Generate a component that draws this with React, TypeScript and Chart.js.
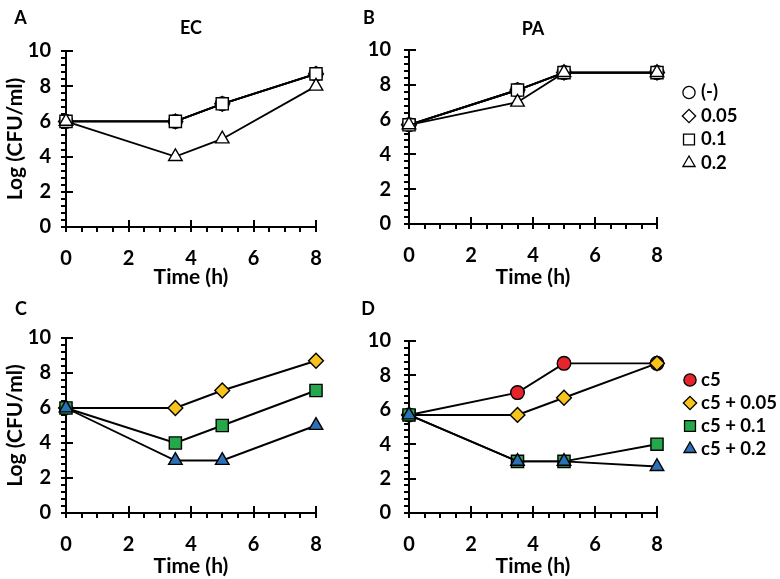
import React, { useEffect, useRef } from 'react';
import { Chart, registerables } from 'chart.js';
import { drawPoint } from 'chart.js/helpers';

Chart.register(...registerables);

const FONT = 'Lato';

// ---------- data ----------
const times = [0, 3.5, 5, 8];
const xTickValues = [0, 2, 4, 6, 8];
const yTickValues = [0, 2, 4, 6, 8, 10];
const xMinorStep = 0.5;
const yMinorStep = 0.4;

const labelsTop = ['(-)', '0.05', '0.1', '0.2'];
const labelsBottom = ['c5', 'c5 + 0.05', 'c5 + 0.1', 'c5 + 0.2'];

// Panel A (EC)
const ecNone = [6, 6, 7, 8.7];
const ec005 = [6, 6, 7, 8.7];
const ec01 = [6, 6, 7, 8.7];
const ec02 = [6, 4, 5, 8];

// Panel B (PA)
const paNone = [5.7, 7.7, 8.7, 8.7];
const pa005 = [5.7, 7.7, 8.7, 8.7];
const pa01 = [5.7, 7.7, 8.7, 8.7];
const pa02 = [5.7, 7.0, 8.7, 8.7];

// Panel C (EC + c5)
const ecC5_005 = [6, 6, 7, 8.7];
const ecC5_01 = [6, 4, 5, 7];
const ecC5_02 = [6, 3, 3, 5];

// Panel D (PA + c5)
const paC5 = [5.7, 7.0, 8.7, 8.7];
const paC5_005 = [5.7, 5.7, 6.7, 8.7];
const paC5_01 = [5.7, 3, 3, 4];
const paC5_02 = [5.7, 3, 3, 2.7];

// ---------- styles ----------
const RED = '#E5242B';
const YELLOW = '#F7C41C';
const GREEN = '#24A84A';
const BLUE = '#2C70B6';

const markerStyles = [
  { style: 'circle', radius: 6.8 },
  { style: 'rectRot', radius: 7.4 },
  { style: 'rect', radius: 8.6 },
  { style: 'triangle', radius: 7.8 },
];

type Series = { label: string; values: number[]; idx: number; fill: string };

type PanelDef = {
  letter: string;
  title?: string;
  yTitle: boolean;
  cx: number; cy: number; W: number; H: number;
  L: number; T: number; R: number; B: number;
  titleCenter?: number;
  letterX: number; letterY: number;
  yPad: number;
  series: Series[];
  legend?: { markerX: number; textX: number; y: number; spacing: number };
};

const panels: PanelDef[] = [
  {
    letter: 'A', title: 'EC', yTitle: true, cx: 0, cy: 0, W: 390, H: 290,
    L: 66, T: 51, R: 316, B: 227, titleCenter: 28, letterX: 20.5, letterY: 18.5, yPad: 15,
    series: [
      { label: labelsTop[0], values: ecNone, idx: 0, fill: '#fff' },
      { label: labelsTop[1], values: ec005, idx: 1, fill: '#fff' },
      { label: labelsTop[2], values: ec01, idx: 2, fill: '#fff' },
      { label: labelsTop[3], values: ec02, idx: 3, fill: '#fff' },
    ],
  },
  {
    letter: 'B', title: 'PA', yTitle: false, cx: 330, cy: 0, W: 450, H: 290,
    L: 409, T: 50, R: 657, B: 224, titleCenter: 29, letterX: 369, letterY: 18.5, yPad: 18,
    series: [
      { label: labelsTop[0], values: paNone, idx: 0, fill: '#fff' },
      { label: labelsTop[1], values: pa005, idx: 1, fill: '#fff' },
      { label: labelsTop[2], values: pa01, idx: 2, fill: '#fff' },
      { label: labelsTop[3], values: pa02, idx: 3, fill: '#fff' },
    ],
    legend: { markerX: 689, textX: 701, y: 92.5, spacing: 23.5 },
  },
  {
    letter: 'C', yTitle: true, cx: 0, cy: 290, W: 390, H: 289,
    L: 66, T: 338, R: 316, B: 513, letterX: 21, letterY: 309, yPad: 15,
    series: [
      { label: labelsBottom[1], values: ecC5_005, idx: 1, fill: YELLOW },
      { label: labelsBottom[2], values: ecC5_01, idx: 2, fill: GREEN },
      { label: labelsBottom[3], values: ecC5_02, idx: 3, fill: BLUE },
    ],
  },
  {
    letter: 'D', yTitle: false, cx: 330, cy: 290, W: 450, H: 289,
    L: 409, T: 341, R: 657, B: 513, letterX: 368, letterY: 309, yPad: 18,
    series: [
      { label: labelsBottom[0], values: paC5, idx: 0, fill: RED },
      { label: labelsBottom[1], values: paC5_005, idx: 1, fill: YELLOW },
      { label: labelsBottom[2], values: paC5_01, idx: 2, fill: GREEN },
      { label: labelsBottom[3], values: paC5_02, idx: 3, fill: BLUE },
    ],
    legend: { markerX: 690, textX: 701, y: 380, spacing: 23 },
  },
];

// ---------- plugins ----------
const axisTicks = {
  id: 'axisTicks',
  beforeDatasetsDraw(chart: any) {
    const { ctx, chartArea, scales } = chart;
    const x = scales.x, y = scales.y;
    const left = chartArea.left, bottom = chartArea.bottom;
    ctx.save();
    ctx.strokeStyle = '#000';
    ctx.lineWidth = 2;
    ctx.beginPath();
    const ny = Math.round((y.max - y.min) / yMinorStep);
    for (let k = 0; k <= ny; k++) {
      const py = Math.round(y.getPixelForValue(y.min + k * yMinorStep));
      ctx.moveTo(left - 5, py); ctx.lineTo(left, py);
    }
    yTickValues.forEach((v) => {
      const py = Math.round(y.getPixelForValue(v));
      ctx.moveTo(left - 5, py); ctx.lineTo(left + 7, py);
    });
    const nx = Math.round((x.max - x.min) / xMinorStep);
    for (let k = 0; k <= nx; k++) {
      const px = Math.round(x.getPixelForValue(x.min + k * xMinorStep));
      ctx.moveTo(px, bottom); ctx.lineTo(px, bottom + 5);
    }
    xTickValues.forEach((v) => {
      const px = Math.round(x.getPixelForValue(v));
      ctx.moveTo(px, bottom - 7); ctx.lineTo(px, bottom + 5);
    });
    ctx.stroke();
    ctx.restore();
  },
};

const panelLetter = {
  id: 'panelLetter',
  afterDraw(chart: any, _args: any, opts: any) {
    if (!opts || !opts.text) return;
    const ctx = chart.ctx;
    ctx.save();
    ctx.fillStyle = '#000';
    ctx.font = `bold ${opts.size}px ${FONT}`;
    ctx.textAlign = 'center';
    ctx.textBaseline = 'middle';
    ctx.fillText(opts.text, opts.x, opts.y);
    ctx.restore();
  },
};

const sideLegend = {
  id: 'sideLegend',
  afterDraw(chart: any, _args: any, opts: any) {
    if (!opts || !opts.display) return;
    const ctx = chart.ctx;
    ctx.save();
    chart.data.datasets.forEach((ds: any, i: number) => {
      const y = opts.y + i * opts.spacing;
      ctx.fillStyle = ds.pointBackgroundColor;
      ctx.strokeStyle = '#000';
      ctx.lineWidth = 1.3;
      drawPoint(ctx, { pointStyle: ds.pointStyle, radius: ds.pointRadius * 0.9, borderWidth: 1.3, rotation: 0 } as any, opts.markerX, y);
      ctx.fillStyle = '#000';
      ctx.font = `bold ${opts.size}px ${FONT}`;
      ctx.textAlign = 'left';
      ctx.textBaseline = 'middle';
      ctx.fillText(ds.label, opts.textX, y);
    });
    ctx.restore();
  },
};

function makeConfig(p: PanelDef): any {
  const padLeft = 3;
  const yWidth = p.L - p.cx - padLeft;
  const xHeight = p.H - (p.B - p.cy);
  const padRight = p.W - (p.R - p.cx);
  const titleFont = 18;
  const titleLH = titleFont * 1.2;
  const n = p.series.length;
  let titlePad = { top: 0, bottom: 0 };
  if (p.title && p.titleCenter) {
    const top = p.titleCenter - titleLH / 2;
    titlePad = { top, bottom: (p.T - p.cy) - top - titleLH };
  }
  return {
    type: 'line',
    data: {
      datasets: p.series.map((s, i) => ({
        label: s.label,
        data: times.map((t, j) => ({ x: t, y: s.values[j] })),
        borderColor: '#000',
        borderWidth: 1.9,
        pointStyle: markerStyles[s.idx].style,
        pointRadius: markerStyles[s.idx].radius,
        pointHoverRadius: markerStyles[s.idx].radius,
        pointBackgroundColor: s.fill,
        pointBorderColor: '#000',
        pointBorderWidth: 1.4,
        order: n - i,
        clip: false,
        tension: 0,
      })),
    },
    options: {
      responsive: false,
      animation: false,
      devicePixelRatio: 1,
      events: [],
      layout: { padding: { left: padLeft, right: padRight, top: p.title ? 0 : p.T - p.cy, bottom: 0 } },
      scales: {
        x: {
          type: 'linear',
          min: 0,
          max: 8,
          afterBuildTicks: (s: any) => { s.ticks = xTickValues.map((v) => ({ value: v })); },
          afterFit: (s: any) => { s.height = xHeight; },
          ticks: { color: '#000', padding: 20, font: { family: FONT, size: 20, weight: 'bold' }, autoSkip: false, maxRotation: 0 },
          grid: { display: false, drawTicks: false },
          border: { display: true, color: '#000', width: 2 },
          title: { display: true, text: 'Time (h)', color: '#000', padding: 0, font: { family: FONT, size: 21, weight: 'bold' } },
        },
        y: {
          type: 'linear',
          min: 0,
          max: 10,
          afterBuildTicks: (s: any) => { s.ticks = yTickValues.map((v) => ({ value: v })); },
          afterFit: (s: any) => { s.width = yWidth; },
          ticks: { color: '#000', padding: p.yPad, font: { family: FONT, size: 20, weight: 'bold' } },
          grid: { display: false, drawTicks: false },
          border: { display: true, color: '#000', width: 2 },
          title: { display: p.yTitle, text: 'Log (CFU/ml)', color: '#000', padding: 0, font: { family: FONT, size: 21, weight: 'bold' } },
        },
      },
      plugins: {
        legend: { display: false },
        tooltip: { enabled: false },
        title: {
          display: !!p.title,
          text: p.title || '',
          fullSize: false,
          color: '#000',
          padding: titlePad,
          font: { family: FONT, size: titleFont, weight: 'bold' },
        },
        panelLetter: { text: p.letter, size: 18, x: p.letterX - p.cx, y: p.letterY - p.cy },
        sideLegend: p.legend
          ? { display: true, markerX: p.legend.markerX - p.cx, textX: p.legend.textX - p.cx, y: p.legend.y - p.cy, spacing: p.legend.spacing, size: 18.5 }
          : { display: false },
      },
    },
    plugins: [axisTicks, panelLetter, sideLegend],
  };
}

function Panel({ p }: { p: PanelDef }) {
  const ref = useRef<HTMLCanvasElement | null>(null);
  useEffect(() => {
    if (!ref.current) return;
    const chart = new Chart(ref.current, makeConfig(p));
    return () => chart.destroy();
  }, [p]);
  return (
    <canvas
      ref={ref}
      width={p.W}
      height={p.H}
      style={{ position: 'absolute', left: p.cx, top: p.cy, width: p.W, height: p.H }}
    />
  );
}

export default function App() {
  return (
    <div style={{ position: 'absolute', left: 0, top: 0, width: 780, height: 579, background: '#fff' }}>
      {panels.map((p) => (
        <Panel key={p.letter} p={p} />
      ))}
    </div>
  );
}
